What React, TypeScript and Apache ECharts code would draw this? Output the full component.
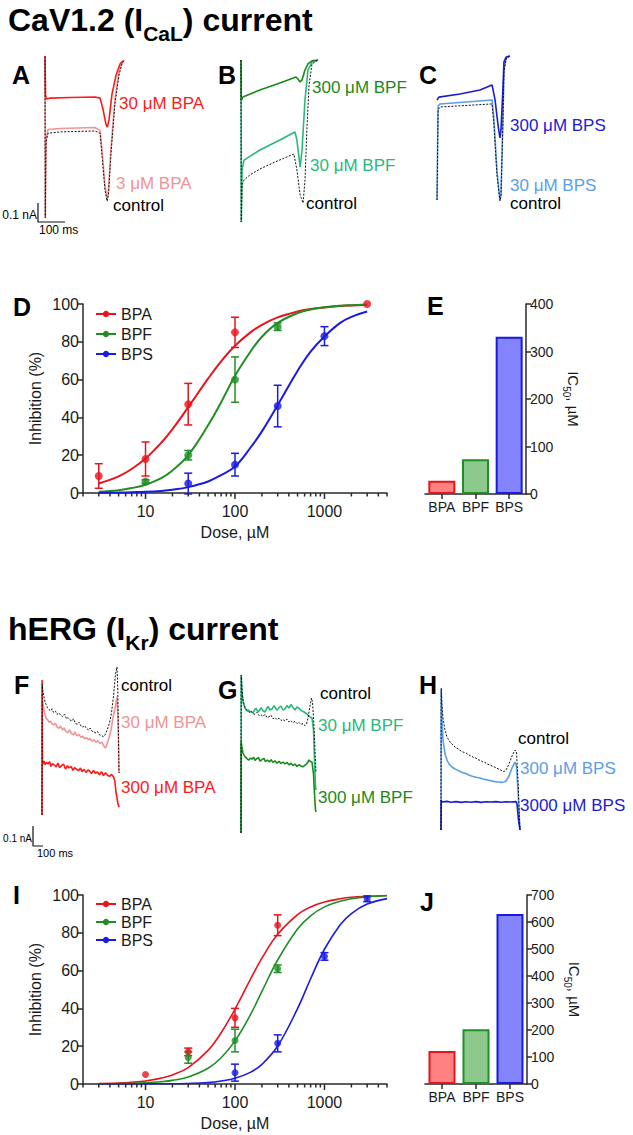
import React, { useEffect, useRef } from "react";
import * as echarts from "echarts";

const FONT = '"Liberation Sans", Arial, Helvetica, sans-serif';
const INK = "#1a1a1a";
const AX = "#2a2a2a";

const COL_BPA = "#e8141c";
const COL_BPF = "#1f8f24";
const COL_BPS = "#1a1ae0";

// ---------- Panel D: CaV1.2 dose-response ----------
const doseD_BPA = [3, 10, 30, 100, 3000];
const inhD_BPA = [9, 18, 47, 85, 100];
const semD_BPA = [6.5, 9, 11, 8, 0];
const doseD_BPF = [10, 30, 100, 300];
const inhD_BPF = [6, 20, 60, 88];
const semD_BPF = [1, 2.5, 12, 2];
const doseD_BPS = [30, 100, 300, 1000];
const inhD_BPS = [5, 15, 46, 83];
const semD_BPS = [5.5, 6, 11, 5];

const fitDoseD = [3, 5, 7, 10, 15, 20, 30, 50, 70, 100, 150, 200, 300, 500, 700, 1000, 1500, 2000, 3000];
const fitD_BPA = [5, 8.8, 12.7, 18.2, 26.6, 33.8, 45.4, 60.5, 69.7, 77.9, 85.1, 89, 92.9, 96, 97.3, 98.2, 98.9, 99.2, 99.5];
const fitD_BPF = [0.7, 1.5, 2.6, 4.4, 7.9, 11.9, 20, 35.8, 48, 62, 75, 82.7, 90, 95.2, 97.1, 98.3, 99.1, 99.4, 99.7];
const fitD_BPS = [0.1, 0.2, 0.4, 0.6, 1.1, 1.7, 3.1, 6.1, 9.5, 14, 24.2, 32.6, 46.5, 64.6, 74.8, 82.8, 90, 93.2, 96];

// ---------- Panel I: hERG dose-response ----------
const doseI_BPA = [10, 30, 100, 300];
const inhI_BPA = [5, 17, 35, 84];
const semI_BPA = [0, 2, 5, 5.5];
const doseI_BPF = [30, 100, 300];
const inhI_BPF = [14, 23, 61];
const semI_BPF = [3, 6, 2];
const doseI_BPS = [100, 300, 1000, 3000];
const inhI_BPS = [6, 21.5, 67.5, 98];
const semI_BPS = [4.5, 4.5, 2, 1.5];

const fitDoseI = [3, 5, 7, 10, 15, 20, 30, 50, 70, 100, 150, 200, 300, 500, 700, 1000, 1500, 2000, 3000, 5000];
const fitI_BPA = [0.3, 0.5, 0.9, 1.6, 3.1, 4.8, 8.7, 17.8, 27.1, 39.6, 55.7, 66.6, 79.2, 89.6, 93.7, 96.3, 98, 98.8, 99.3, 99.7];
const fitI_BPF = [0.1, 0.2, 0.3, 0.6, 1.2, 1.9, 3.7, 8.3, 13.9, 22.8, 37, 49, 65.6, 82, 89, 93.7, 96.7, 98, 99, 99.6];
const fitI_BPS = [0, 0, 0, 0, 0.1, 0.1, 0.3, 0.8, 1.6, 3, 6.3, 10.4, 20.1, 39.9, 55.7, 71.3, 84.3, 90.2, 95.2, 98.1];

// ---------- Panels E / J: IC50 ----------
const compounds = ["BPA", "BPF", "BPS"];
const ic50Cav = [28, 73, 331];
const ic50Herg = [122, 203, 630];

// ---------- log-axis ticks ----------
const doseMajorTicks = [10, 100, 1000];
const doseMinorTicks = [2, 3, 4, 5, 6, 7, 8, 9, 20, 30, 40, 50, 60, 70, 80, 90, 200, 300, 400, 500, 600, 700, 800, 900, 2000, 3000, 4000, 5000];

// ---------- Current traces (time ms, current nA) ----------
// CaV1.2 panel A
const trA_BPA30 = [[0, 0.03], [2, -0.18], [7, -0.195], [19, -0.19], [93, -0.187], [185, -0.184], [204, -0.19], [215, -0.25], [226, -0.33], [231, -0.342], [237, -0.305], [248, -0.17], [263, -0.07], [278, -0.01], [289, 0.005]];
const trA_BPA3 = [[0, 0.03], [1, -0.82], [4, -0.41], [11, -0.355], [56, -0.35], [185, -0.345], [204, -0.36], [211, -0.46], [222, -0.65], [230, -0.72], [235, -0.68], [244, -0.46], [259, -0.2], [274, -0.05], [285, -0.005], [293, 0.01]];
const trA_ctrl = [[0, 0.03], [1, -0.82], [4, -0.42], [11, -0.375], [56, -0.368], [185, -0.363], [204, -0.375], [211, -0.49], [222, -0.67], [230, -0.733], [235, -0.7], [244, -0.49], [259, -0.22], [274, -0.07], [285, -0.01], [293, 0.01]];
const scaleBarCav = [[-26, -0.742], [-26, -0.842], [74, -0.842]];
// panel B
const trB_BPF300 = [[0, 0.016], [1, -0.195], [7, -0.179], [70, -0.142], [144, -0.105], [204, -0.074], [211, -0.084], [219, -0.1], [226, -0.089], [237, -0.037], [248, -0.005], [263, 0.011], [285, 0.016]];
const trB_BPF30 = [[0, 0.016], [1, -0.837], [4, -0.563], [11, -0.511], [70, -0.458], [144, -0.405], [200, -0.363], [207, -0.405], [219, -0.547], [226, -0.458], [237, -0.195], [248, -0.037], [263, 0.005], [285, 0.016]];
const trB_ctrl = [[0, 0.016], [1, -0.837], [4, -0.642], [11, -0.616], [33, -0.589], [70, -0.558], [126, -0.521], [196, -0.479], [207, -0.563], [219, -0.695], [230, -0.737], [237, -0.616], [244, -0.353], [252, -0.116], [263, -0.005], [285, 0.016]];
// panel C
const trC_BPS300 = [[0, -0.226], [7, -0.211], [85, -0.195], [159, -0.174], [204, -0.147], [215, -0.226], [226, -0.358], [233, -0.426], [237, -0.384], [244, -0.174], [248, -0.026], [256, 0], [270, 0.005]];
const trC_BPS30 = [[0, -0.753], [4, -0.258], [11, -0.247], [204, -0.226], [211, -0.332], [222, -0.595], [233, -0.753], [237, -0.726], [244, -0.332], [248, -0.068], [256, -0.005], [270, 0.005]];
const trC_ctrl = [[0, -0.753], [4, -0.279], [11, -0.263], [204, -0.247], [211, -0.358], [222, -0.621], [233, -0.758], [237, -0.732], [244, -0.358], [248, -0.079], [256, -0.011], [270, 0.005]];

// hERG panel F
const trF_ctrl = [[0, 0.075], [3, 0.73], [10, 0.69], [20, 0.665], [30, 0.64], [40, 0.628], [55, 0.61], [70, 0.602], [85, 0.596], [100, 0.606], [115, 0.588], [135, 0.594], [150, 0.578], [170, 0.585], [190, 0.572], [205, 0.568], [225, 0.58], [245, 0.556], [260, 0.562], [280, 0.55], [300, 0.545], [315, 0.556], [335, 0.532], [355, 0.528], [370, 0.538], [390, 0.52], [410, 0.514], [425, 0.522], [445, 0.508], [465, 0.5], [480, 0.51], [500, 0.494], [520, 0.49], [540, 0.485], [555, 0.492], [575, 0.476], [595, 0.472], [615, 0.466], [635, 0.48], [655, 0.505], [675, 0.535], [695, 0.585], [715, 0.67], [735, 0.78], [750, 0.815], [758, 0.7], [765, 0.45], [770, 0.285]];
const trF_BPA30 = [[0, 0.075], [3, 0.665], [10, 0.63], [20, 0.6], [30, 0.578], [40, 0.56], [55, 0.552], [70, 0.538], [85, 0.545], [100, 0.53], [120, 0.526], [135, 0.534], [150, 0.515], [170, 0.508], [185, 0.52], [205, 0.5], [220, 0.51], [240, 0.492], [260, 0.488], [275, 0.5], [295, 0.482], [315, 0.476], [330, 0.49], [350, 0.47], [370, 0.478], [390, 0.462], [405, 0.47], [425, 0.456], [445, 0.462], [465, 0.45], [480, 0.458], [500, 0.444], [520, 0.452], [540, 0.438], [560, 0.446], [580, 0.432], [600, 0.44], [620, 0.418], [635, 0.41], [650, 0.43], [670, 0.46], [690, 0.5], [710, 0.56], [730, 0.61], [750, 0.665], [758, 0.58], [765, 0.45], [770, 0.285]];
const trF_BPA300 = [[0, 0.075], [1, 0.75], [5, 0.34], [10, 0.33], [20, 0.345], [30, 0.328], [45, 0.338], [60, 0.33], [75, 0.342], [90, 0.318], [105, 0.332], [120, 0.326], [140, 0.316], [160, 0.334], [175, 0.312], [195, 0.322], [215, 0.33], [235, 0.305], [255, 0.322], [270, 0.31], [290, 0.318], [310, 0.298], [325, 0.312], [345, 0.304], [365, 0.296], [385, 0.31], [400, 0.292], [420, 0.303], [440, 0.288], [460, 0.3], [475, 0.295], [495, 0.282], [515, 0.298], [535, 0.284], [555, 0.29], [575, 0.276], [595, 0.292], [615, 0.272], [635, 0.286], [655, 0.274], [675, 0.268], [695, 0.278], [715, 0.266], [728, 0.245], [740, 0.19], [750, 0.16], [760, 0.13], [770, 0.115]];
const scaleBarHerg = [[-90, 0.02], [-90, -0.08], [10, -0.08]];
// panel G
const trG_ctrl = [[0, -0.015], [2, 0.775], [10, 0.7], [20, 0.65], [40, 0.61], [60, 0.6], [80, 0.588], [100, 0.594], [120, 0.582], [140, 0.578], [160, 0.588], [180, 0.572], [200, 0.576], [220, 0.568], [240, 0.578], [260, 0.562], [280, 0.566], [300, 0.574], [320, 0.556], [340, 0.562], [360, 0.552], [380, 0.56], [400, 0.548], [420, 0.552], [440, 0.545], [460, 0.554], [480, 0.54], [500, 0.546], [520, 0.536], [540, 0.544], [560, 0.532], [580, 0.538], [600, 0.528], [620, 0.532], [640, 0.522], [655, 0.53], [670, 0.56], [690, 0.62], [705, 0.66], [715, 0.64], [730, 0.52], [740, 0.4], [750, 0.285]];
const trG_BPF30 = [[0, -0.015], [2, 0.775], [10, 0.69], [20, 0.64], [40, 0.61], [60, 0.595], [75, 0.6], [90, 0.59], [105, 0.592], [120, 0.585], [135, 0.6], [150, 0.608], [170, 0.59], [185, 0.598], [200, 0.612], [220, 0.596], [240, 0.59], [255, 0.605], [270, 0.618], [290, 0.6], [310, 0.605], [330, 0.622], [345, 0.61], [360, 0.598], [380, 0.612], [400, 0.62], [420, 0.6], [440, 0.605], [460, 0.622], [480, 0.61], [500, 0.628], [520, 0.612], [540, 0.6], [560, 0.616], [580, 0.608], [600, 0.598], [630, 0.59], [660, 0.58], [690, 0.565], [710, 0.56], [725, 0.5], [735, 0.35], [745, 0.22], [750, 0.2]];
const trG_BPF300 = [[0, -0.015], [2, 0.44], [10, 0.41], [20, 0.385], [35, 0.37], [50, 0.362], [65, 0.354], [80, 0.35], [95, 0.36], [110, 0.354], [125, 0.364], [140, 0.348], [155, 0.356], [175, 0.362], [190, 0.344], [210, 0.352], [230, 0.358], [245, 0.342], [265, 0.35], [285, 0.34], [300, 0.352], [320, 0.338], [340, 0.346], [360, 0.334], [380, 0.344], [400, 0.332], [420, 0.34], [440, 0.33], [460, 0.338], [480, 0.326], [500, 0.334], [520, 0.322], [540, 0.33], [560, 0.318], [580, 0.326], [600, 0.32], [620, 0.316], [640, 0.324], [660, 0.332], [680, 0.35], [695, 0.342], [710, 0.34], [725, 0.28], [735, 0.18], [745, 0.1], [750, 0.09]];
// panel H
const trH_ctrl = [[0, 0], [2, 0.71], [10, 0.62], [20, 0.56], [40, 0.5], [60, 0.465], [90, 0.44], [120, 0.425], [150, 0.41], [170, 0.406], [190, 0.398], [220, 0.39], [250, 0.385], [270, 0.378], [290, 0.372], [310, 0.368], [330, 0.362], [350, 0.36], [370, 0.352], [400, 0.346], [420, 0.34], [440, 0.338], [460, 0.33], [490, 0.325], [510, 0.32], [530, 0.316], [550, 0.312], [570, 0.306], [590, 0.302], [610, 0.296], [630, 0.292], [650, 0.3], [680, 0.33], [710, 0.37], [740, 0.4], [755, 0.39], [770, 0.25], [785, 0.05], [790, 0]];
const trH_BPS300 = [[0, 0], [2, 0.7], [10, 0.55], [20, 0.45], [40, 0.38], [60, 0.35], [80, 0.33], [110, 0.315], [140, 0.305], [170, 0.298], [200, 0.29], [230, 0.285], [260, 0.28], [290, 0.272], [320, 0.268], [350, 0.264], [390, 0.26], [420, 0.255], [450, 0.252], [480, 0.248], [510, 0.245], [540, 0.242], [570, 0.24], [600, 0.238], [630, 0.24], [650, 0.245], [680, 0.27], [710, 0.31], [740, 0.34], [755, 0.32], [770, 0.2], [785, 0.04], [790, 0]];
const trH_BPS3000 = [[0, 0], [2, 0.15], [10, 0.14], [60, 0.143], [100, 0.139], [150, 0.142], [200, 0.138], [250, 0.141], [300, 0.139], [350, 0.142], [400, 0.138], [450, 0.141], [500, 0.14], [550, 0.142], [600, 0.139], [650, 0.141], [700, 0.14], [750, 0.142], [760, 0.13], [775, 0.05], [790, 0]];

// ---------- helpers ----------
type Box = { left: number; top: number; width: number; height: number; x0: number; y0: number; pxMs: number; pxNa: number };

function traceAxes(b: Box, idx: number) {
  return {
    grid: { left: b.left, top: b.top, width: b.width, height: b.height },
    xAxis: { gridIndex: idx, type: "value", show: false, min: (b.left - b.x0) / b.pxMs, max: (b.left + b.width - b.x0) / b.pxMs, splitLine: { show: false } },
    yAxis: { gridIndex: idx, type: "value", show: false, min: (b.y0 - b.top - b.height) / b.pxNa, max: (b.y0 - b.top) / b.pxNa, splitLine: { show: false } },
  };
}

function trace(idx: number, data: number[][], color: string, width = 1.4, dotted = false) {
  return {
    type: "line", xAxisIndex: idx, yAxisIndex: idx, data, symbol: "none", showSymbol: false,
    lineStyle: { color, width, type: dotted ? [2, 1.5] : "solid" }, clip: false, silent: true, z: dotted ? 4 : 3,
  };
}

function zipPts(x: number[], y: number[]) {
  return x.map((v, i) => [v, y[i]]);
}

function fitLine(idx: number, name: string, dose: number[], vals: number[], color: string, width: number) {
  return {
    type: "line", name, xAxisIndex: idx, yAxisIndex: idx, data: zipPts(dose, vals), smooth: 0.4,
    symbol: "circle", showSymbol: false, lineStyle: { color, width }, itemStyle: { color }, silent: true, z: 3,
  };
}

function points(idx: number, dose: number[], vals: number[], color: string, size: number) {
  return {
    type: "scatter", name: "pts", xAxisIndex: idx, yAxisIndex: idx, data: zipPts(dose, vals),
    symbol: "circle", symbolSize: size, itemStyle: { color }, silent: true, z: 5,
  };
}

function errBars(idx: number, dose: number[], vals: number[], sem: number[], color: string) {
  const data = dose.map((d, i) => [d, vals[i], vals[i] - sem[i], vals[i] + sem[i]]).filter((r, i) => sem[i] > 0);
  return {
    type: "custom", xAxisIndex: idx, yAxisIndex: idx, data, silent: true, z: 4, clip: false,
    renderItem: (params: any, api: any) => {
      const x = api.value(0);
      const lo = api.coord([x, api.value(2)]);
      const hi = api.coord([x, api.value(3)]);
      const w = 4;
      const st = { stroke: color, lineWidth: 1.5 };
      return {
        type: "group",
        children: [
          { type: "line", shape: { x1: lo[0], y1: lo[1], x2: hi[0], y2: hi[1] }, style: st },
          { type: "line", shape: { x1: hi[0] - w, y1: hi[1], x2: hi[0] + w, y2: hi[1] }, style: st },
          { type: "line", shape: { x1: lo[0] - w, y1: lo[1], x2: lo[0] + w, y2: lo[1] }, style: st },
        ],
      };
    },
  };
}

function doseTicks(idx: number) {
  const data = [...doseMajorTicks.map((d) => [d, 0, 1]), ...doseMinorTicks.map((d) => [d, 0, 0])];
  return {
    type: "custom", xAxisIndex: idx, yAxisIndex: idx, data, silent: true, clip: false, z: 6,
    renderItem: (params: any, api: any) => {
      const p = api.coord([api.value(0), 0]);
      const len = api.value(2) ? 6 : 3.5;
      return { type: "line", shape: { x1: p[0], y1: p[1], x2: p[0], y2: p[1] + len }, style: { stroke: AX, lineWidth: 1.5 } };
    },
  };
}

function doseAxes(idx: number) {
  return {
    xAxis: {
      gridIndex: idx, type: "log", logBase: 10, min: 2, max: 5000,
      axisLine: { show: true, lineStyle: { color: AX, width: 1.5 } },
      axisTick: { show: false }, splitLine: { show: false }, minorTick: { show: false },
      axisLabel: {
        color: INK, fontSize: 16, fontFamily: FONT, margin: 10, showMinLabel: true, showMaxLabel: true,
        formatter: (v: number) => {
          const l = Math.log10(v);
          return Math.abs(l - Math.round(l)) < 1e-6 && v >= 9 && v <= 1100 ? String(Math.round(v)) : "";
        },
      },
      name: "Dose, µM", nameLocation: "middle", nameGap: 31,
      nameTextStyle: { color: INK, fontSize: 16, fontFamily: FONT },
    },
    yAxis: {
      gridIndex: idx, type: "value", min: 0, max: 100, interval: 20,
      axisLine: { show: true, lineStyle: { color: AX, width: 1.5 } },
      axisTick: { show: true, length: 6, lineStyle: { color: AX, width: 1.5 } },
      splitLine: { show: false },
      axisLabel: { color: INK, fontSize: 16, fontFamily: FONT, margin: 4 },
      name: "Inhibition (%)", nameLocation: "middle", nameGap: 40, nameRotate: 90,
      nameTextStyle: { color: INK, fontSize: 16, fontFamily: FONT },
    },
  };
}

function icAxes(idx: number, max: number) {
  return {
    xAxis: {
      gridIndex: idx, type: "category", data: compounds,
      axisLine: { show: true, lineStyle: { color: AX, width: 1.5 } },
      axisTick: { show: true, alignWithLabel: true, length: 5, lineStyle: { color: AX, width: 1.5 } },
      axisLabel: { color: INK, fontSize: 14, fontFamily: FONT, margin: 6, interval: 0, hideOverlap: false },
    },
    yAxis: {
      gridIndex: idx, type: "value", position: "right", min: 0, max, interval: 100,
      axisLine: { show: true, lineStyle: { color: AX, width: 1.5 } },
      axisTick: { show: true, length: 5, lineStyle: { color: AX, width: 1.5 } },
      splitLine: { show: false },
      axisLabel: { color: INK, fontSize: 14, fontFamily: FONT, margin: 4 },
      name: "{a|IC}{b|50}{a|, µM}", nameLocation: "middle", nameGap: 35, nameRotate: -90,
      nameTextStyle: {
        color: INK, fontSize: 15, fontFamily: FONT,
        rich: {
          a: { fontSize: 15, fontFamily: FONT, color: INK, lineHeight: 24, verticalAlign: "middle" },
          b: { fontSize: 10, fontFamily: FONT, color: INK, verticalAlign: "bottom" },
        },
      },
    },
  };
}

const barColors = [
  { fill: "#ff8282", border: COL_BPA },
  { fill: "#8dc98d", border: COL_BPF },
  { fill: "#8484ff", border: COL_BPS },
];

function icBars(idx: number, vals: number[]) {
  return {
    type: "bar", xAxisIndex: idx, yAxisIndex: idx, barWidth: 27, silent: true,
    data: vals.map((v, i) => ({ value: v, itemStyle: { color: barColors[i].fill, borderColor: barColors[i].border, borderWidth: 2 } })),
  };
}

function txt(x: number, y: number, text: string, color: string, size = 17, weight: string = "normal", align = "left") {
  return {
    type: "text", x, y, silent: true, z: 10,
    style: { text, fill: color, fontSize: size, fontWeight: weight, fontFamily: FONT, align, verticalAlign: "middle" },
  };
}

function titleText(y: number, pre: string, sub: string, post: string) {
  return {
    type: "text", x: 8, y, silent: true, z: 10,
    style: {
      text: `{m|${pre}}{s|${sub}}{m|${post}}`, fill: "#000", verticalAlign: "top", align: "left",
      rich: {
        m: { fontSize: 32, fontWeight: "bold", fontFamily: FONT, lineHeight: 48, verticalAlign: "middle", fill: "#000" },
        s: { fontSize: 21, fontWeight: "bold", fontFamily: FONT, verticalAlign: "bottom", fill: "#000" },
      },
    },
  };
}

function buildOption() {
  const cav = { pxMs: 0.27, pxNa: 190, top: 45, height: 195 };
  const herg = { pxMs: 0.1, pxNa: 200, top: 655, height: 200 };
  const A = traceAxes({ left: 25, width: 110, x0: 45, y0: 62, ...cav }, 0);
  const B = traceAxes({ left: 225, width: 105, x0: 241, y0: 63, ...cav }, 1);
  const C = traceAxes({ left: 425, width: 100, x0: 437, y0: 57, ...cav }, 2);
  const F = traceAxes({ left: 20, width: 110, x0: 42, y0: 830, ...herg }, 5);
  const G = traceAxes({ left: 225, width: 105, x0: 241, y0: 830, ...herg }, 6);
  const H = traceAxes({ left: 425, width: 105, x0: 441, y0: 830, ...herg }, 7);
  const D = doseAxes(3);
  const I = doseAxes(8);
  const E = icAxes(4, 400);
  const J = icAxes(9, 700);

  const grids = [
    A.grid, B.grid, C.grid,
    { left: 83, top: 304, width: 304, height: 189 },
    { left: 425, top: 304, width: 101, height: 190 },
    F.grid, G.grid, H.grid,
    { left: 83, top: 895, width: 304, height: 189 },
    { left: 425, top: 895, width: 102, height: 189 },
  ];

  const BLACK = "#111";
  const PINK = "#f39393";
  const RED = "#ff1a1a";
  const DKGREEN = "#1a8a1a";
  const LTGREEN = "#2bb87c";
  const DKBLUE = "#1c1cd0";
  const LTBLUE = "#5b9ee8";

  const series: any[] = [
    // A
    trace(0, trA_BPA3, PINK, 1.6), trace(0, trA_BPA30, RED, 1.6), trace(0, trA_ctrl, BLACK, 1, true),
    trace(0, scaleBarCav, BLACK, 1.2),
    // B
    trace(1, trB_BPF30, LTGREEN, 1.6), trace(1, trB_BPF300, DKGREEN, 1.6), trace(1, trB_ctrl, BLACK, 1, true),
    // C
    trace(2, trC_BPS30, LTBLUE, 1.6), trace(2, trC_BPS300, DKBLUE, 1.6), trace(2, trC_ctrl, BLACK, 1, true),
    // D
    fitLine(3, "BPA", fitDoseD, fitD_BPA, COL_BPA, 2), fitLine(3, "BPF", fitDoseD, fitD_BPF, COL_BPF, 2), fitLine(3, "BPS", fitDoseD, fitD_BPS, COL_BPS, 2),
    errBars(3, doseD_BPA, inhD_BPA, semD_BPA, COL_BPA), errBars(3, doseD_BPF, inhD_BPF, semD_BPF, COL_BPF), errBars(3, doseD_BPS, inhD_BPS, semD_BPS, COL_BPS),
    points(3, doseD_BPA, inhD_BPA, COL_BPA, 8), points(3, doseD_BPF, inhD_BPF, COL_BPF, 8), points(3, doseD_BPS, inhD_BPS, COL_BPS, 8),
    doseTicks(3),
    // E
    icBars(4, ic50Cav),
    // F
    trace(5, trF_BPA30, PINK, 1.6), trace(5, trF_BPA300, RED, 1.6), trace(5, trF_ctrl, BLACK, 1, true),
    trace(5, scaleBarHerg, BLACK, 1.2),
    // G
    trace(6, trG_BPF30, LTGREEN, 1.6), trace(6, trG_BPF300, DKGREEN, 1.6), trace(6, trG_ctrl, BLACK, 1, true),
    // H
    trace(7, trH_BPS300, LTBLUE, 1.6), trace(7, trH_BPS3000, DKBLUE, 1.6), trace(7, trH_ctrl, BLACK, 1, true),
    // I
    fitLine(8, "BPA", fitDoseI, fitI_BPA, COL_BPA, 1.6), fitLine(8, "BPF", fitDoseI, fitI_BPF, COL_BPF, 1.6), fitLine(8, "BPS", fitDoseI, fitI_BPS, COL_BPS, 1.6),
    errBars(8, doseI_BPA, inhI_BPA, semI_BPA, COL_BPA), errBars(8, doseI_BPF, inhI_BPF, semI_BPF, COL_BPF), errBars(8, doseI_BPS, inhI_BPS, semI_BPS, COL_BPS),
    points(8, doseI_BPA, inhI_BPA, COL_BPA, 7), points(8, doseI_BPF, inhI_BPF, COL_BPF, 7), points(8, doseI_BPS, inhI_BPS, COL_BPS, 7),
    doseTicks(8),
    // J
    icBars(9, ic50Herg),
  ];

  const legendBase = {
    orient: "vertical", left: 90, itemWidth: 20, itemHeight: 8, selectedMode: false,
    data: compounds, textStyle: { color: INK, fontSize: 16, fontFamily: FONT },
  };

  const graphics: any[] = [
    titleText(-4, "CaV1.2 (I", "CaL", ") current"),
    titleText(605, "hERG (I", "Kr", ") current"),
    // panel letters
    txt(12, 75, "A", "#000", 25, "bold"), txt(218, 75, "B", "#000", 25, "bold"), txt(419, 75, "C", "#000", 25, "bold"),
    txt(13, 307, "D", "#000", 25, "bold"), txt(427, 306, "E", "#000", 25, "bold"),
    txt(14, 685, "F", "#000", 25, "bold"), txt(218, 690, "G", "#000", 25, "bold"), txt(419, 685, "H", "#000", 25, "bold"),
    txt(13, 895, "I", "#000", 25, "bold"), txt(420, 902, "J", "#000", 25, "bold"),
    // trace labels CaV
    txt(119, 103, "30 μM BPA", RED), txt(116, 183, "3 μM BPA", PINK), txt(113, 205, "control", "#000"),
    txt(312, 87, "300 μM BPF", DKGREEN), txt(310, 165, "30 μM BPF", LTGREEN), txt(306, 203, "control", "#000"),
    txt(510, 125, "300 μM BPS", DKBLUE), txt(510, 185, "30 μM BPS", LTBLUE), txt(510, 203, "control", "#000"),
    // trace labels hERG
    txt(121, 685, "control", "#000"), txt(121, 722, "30 μM BPA", PINK), txt(121, 787, "300 μM BPA", RED),
    txt(320, 693, "control", "#000"), txt(318, 725, "30 μM BPF", LTGREEN), txt(318, 797, "300 μM BPF", DKGREEN),
    txt(518, 738, "control", "#000"), txt(520, 768, "300 μM BPS", LTBLUE), txt(520, 805, "3000 μM BPS", DKBLUE),
    // scale bar labels
    txt(37, 215, "0.1 nA", "#000", 12, "normal", "right"), txt(39, 230, "100 ms", "#000", 12),
    txt(32, 838, "0.1 nA", "#000", 10, "normal", "right"), txt(37, 853, "100 ms", "#000", 11),
  ];

  return {
    animation: false,
    backgroundColor: "#fff",
    textStyle: { fontFamily: FONT },
    grid: grids,
    xAxis: [A.xAxis, B.xAxis, C.xAxis, D.xAxis, E.xAxis, F.xAxis, G.xAxis, H.xAxis, I.xAxis, J.xAxis],
    yAxis: [A.yAxis, B.yAxis, C.yAxis, D.yAxis, E.yAxis, F.yAxis, G.yAxis, H.yAxis, I.yAxis, J.yAxis],
    legend: [
      { ...legendBase, top: 301, itemGap: 4 },
      { ...legendBase, top: 891, itemGap: 2 },
    ],
    series,
    graphic: graphics,
  };
}

export default function App() {
  const ref = useRef<HTMLDivElement>(null);
  useEffect(() => {
    if (!ref.current) return;
    const chart = echarts.init(ref.current, null, { renderer: "svg" });
    chart.setOption(buildOption() as any);
    return () => chart.dispose();
  }, []);
  return <div ref={ref} style={{ position: "absolute", left: 0, top: 0, width: 633, height: 1135, background: "#fff" }} />;
}
